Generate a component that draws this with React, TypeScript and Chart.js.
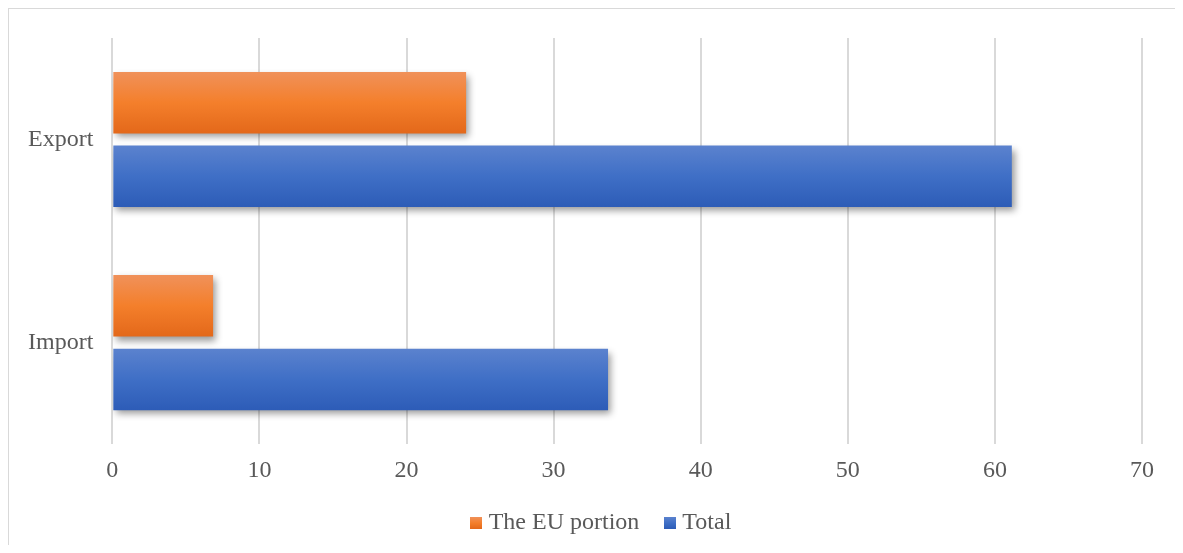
import React, { useEffect, useRef } from "react";
import { Chart, registerables } from "chart.js";

Chart.register(...registerables);

const categories = ["Export", "Import"];
const euPortion = [24.05, 6.85];
const totalValues = [61.15, 33.7];
const seriesLabels = ["The EU portion", "Total"];
const xTicks = [0, 10, 20, 30, 40, 50, 60, 70];

const CAT_PCT = 0.725;
const BAR_PCT = 0.835;
const FONT = "'Liberation Serif', 'Times New Roman', serif";
const TEXT = "#595959";

const orangeStops: [number, string][] = [
  [0, "#F0915A"],
  [0.5, "#F47F2B"],
  [1, "#E3681A"],
];
const blueStops: [number, string][] = [
  [0, "#5B82CE"],
  [0.5, "#3F6FC6"],
  [1, "#2D5CB7"],
];

function gradient(stops: [number, string][], fallback: string) {
  return (ctx: any) => {
    const chart = ctx.chart;
    const ys = chart.scales && chart.scales.y;
    if (!ys || ctx.type !== "data" || ctx.dataIndex === undefined) return fallback;
    const band = (ys.bottom - ys.top) / categories.length;
    const center = ys.getPixelForValue(ctx.dataIndex);
    const group = band * CAT_PCT;
    const slot = group / 2;
    const c = center - group / 2 + slot * (ctx.datasetIndex + 0.5);
    const half = (slot * BAR_PCT) / 2;
    if (!isFinite(c - half) || !isFinite(c + half)) return fallback;
    const g = chart.ctx.createLinearGradient(0, c - half, 0, c + half);
    stops.forEach(([o, col]) => g.addColorStop(o, col));
    return g;
  };
}

function legendSwatch(stops: [number, string][]) {
  const c = document.createElement("canvas");
  c.width = 12;
  c.height = 12;
  const x = c.getContext("2d")!;
  const g = x.createLinearGradient(0, 0, 0, 12);
  stops.forEach(([o, col]) => g.addColorStop(o, col));
  x.fillStyle = g;
  x.fillRect(0, 0, 12, 12);
  return c;
}

const shadowPlugin = {
  id: "barShadow",
  beforeDatasetsDraw(chart: any) {
    const ctx = chart.ctx;
    ctx.save();
    ctx.shadowColor = "rgba(0,0,0,0.4)";
    ctx.shadowBlur = 7;
    ctx.shadowOffsetX = 3;
    ctx.shadowOffsetY = 4;
  },
  afterDatasetsDraw(chart: any) {
    chart.ctx.restore();
  },
};

const legendShift = {
  id: "legendShift",
  afterLayout(chart: any) {
    if (chart.legend) {
      chart.legend.left += 28;
      chart.legend.right += 28;
    }
  },
};

export default function App() {
  const canvasRef = useRef<HTMLCanvasElement | null>(null);

  useEffect(() => {
    document.documentElement.style.overflow = "hidden";
    document.body.style.overflow = "hidden";
    if (!canvasRef.current) return;
    const swatches = [legendSwatch(orangeStops), legendSwatch(blueStops)];
    const chart = new Chart(canvasRef.current, {
      type: "bar",
      data: {
        labels: categories,
        datasets: [
          {
            label: seriesLabels[0],
            data: euPortion,
            backgroundColor: gradient(orangeStops, "#F07F2E") as any,
            borderWidth: 0,
            categoryPercentage: CAT_PCT,
            barPercentage: BAR_PCT,
          },
          {
            label: seriesLabels[1],
            data: totalValues,
            backgroundColor: gradient(blueStops, "#3B6CC4") as any,
            borderWidth: 0,
            categoryPercentage: CAT_PCT,
            barPercentage: BAR_PCT,
          },
        ],
      },
      options: {
        indexAxis: "y",
        animation: false,
        responsive: true,
        maintainAspectRatio: false,
        layout: { padding: { top: 29, right: 40, left: 0, bottom: 8 } },
        scales: {
          x: {
            min: 0,
            max: 70,
            afterBuildTicks: (scale: any) => {
              scale.ticks = xTicks.map((v) => ({ value: v }));
            },
            afterFit: (scale: any) => {
              scale.height -= 16;
            },
            grid: { color: "#d9d9d9", lineWidth: 2, drawTicks: false },
            border: { display: false },
            ticks: {
              padding: 12,
              color: TEXT,
              font: { family: FONT, size: 24 },
            },
          },
          y: {
            afterFit: (scale: any) => {
              scale.paddingTop = 0;
              scale.paddingBottom = 0;
            },
            grid: { display: false, drawTicks: false },
            border: { display: false },
            ticks: {
              padding: 19,
              color: TEXT,
              font: { family: FONT, size: 24 },
            },
          },
        },
        plugins: {
          legend: {
            position: "bottom",
            labels: {
              usePointStyle: true,
              pointStyleWidth: 1,
              boxWidth: 12,
              boxHeight: 12,
              padding: 30,
              color: TEXT,
              font: { family: FONT, size: 24 },
              generateLabels: (chart: any) => {
                const items = Chart.defaults.plugins.legend.labels.generateLabels(chart);
                items.forEach((it: any, i: number) => {
                  it.pointStyle = swatches[i];
                  it.lineWidth = 0;
                });
                return items;
              },
            },
          },
          tooltip: { enabled: false },
        },
      },
      plugins: [shadowPlugin, legendShift],
    });
    return () => chart.destroy();
  }, []);

  return (
    <div
      style={{
        position: "relative",
        width: 1173,
        height: 544,
        marginBottom: -8,
        borderTop: "1px solid #d9d9d9",
        borderLeft: "1px solid #d9d9d9",
        borderRight: "1px solid #d9d9d9",
        background: "#fff",
      }}
    >
      <canvas ref={canvasRef} />
    </div>
  );
}
